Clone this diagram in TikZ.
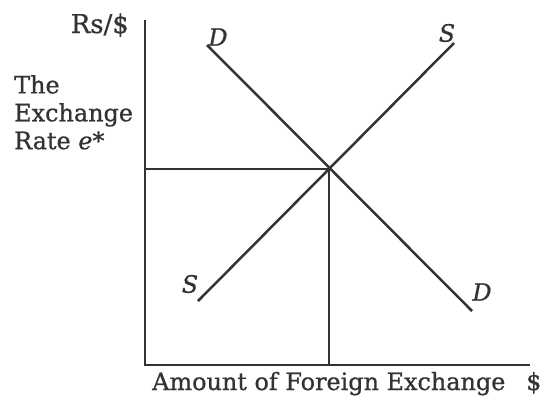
\documentclass[tikz,border=0pt]{standalone}
\usepackage{fontspec}
\setmainfont{DejaVu Serif}[FakeBold=0.8]
\definecolor{ink}{HTML}{333333}
\begin{document}
\begin{tikzpicture}[x=1bp,y=-1bp,
  axis/.style={line width=2.5bp,draw=ink},
  curve/.style={line width=2.5bp,draw=ink},
  curvelabel/.style={text=ink,font=\fontsize{24}{26}\selectfont\itshape,inner sep=0pt},
  axislabel/.style={text=ink,font=\fontsize{24}{26}\selectfont,inner sep=0pt},
  sidelabel/.style={text=ink,font=\fontsize{24}{28}\selectfont,inner sep=0pt,align=left}]
\useasboundingbox (0,0) rectangle (541,398);
\coordinate (Ytop) at (145,20);
\coordinate (O) at (145,365);
\coordinate (Xend) at (530,365);
\coordinate (E) at (329,169);
\coordinate (D1) at (207,45);
\coordinate (D2) at (472,311);
\coordinate (S1) at (198,301);
\coordinate (S2) at (454,43);
\draw[axis] (Ytop) -- (O) -- (Xend);
\draw[axis] (O |- E) -- (E) -- (E |- O);
\draw[curve] (D1) -- (D2);
\draw[curve] (S1) -- (S2);
\node[curvelabel] (dtop) at (218,37) {D};
\node[curvelabel] (dbot) at (482,292) {D};
\node[curvelabel] (stop) at (447,33) {S};
\node[curvelabel] (sbot) at (190,284) {S};
\node[axislabel,font=\fontsize{26}{28}\selectfont,anchor=base east] (rs) at (129,33) {Rs/\$};
\node[sidelabel,anchor=north west] (rate) at (14,75) {The\\Exchange\\Rate \textit{e}*};
\node[axislabel,anchor=base west] (amt) at (152,390) {Amount of Foreign Exchange};
\node[axislabel,anchor=base west] (dol) at (526,390) {\$};
\end{tikzpicture}
\end{document}
